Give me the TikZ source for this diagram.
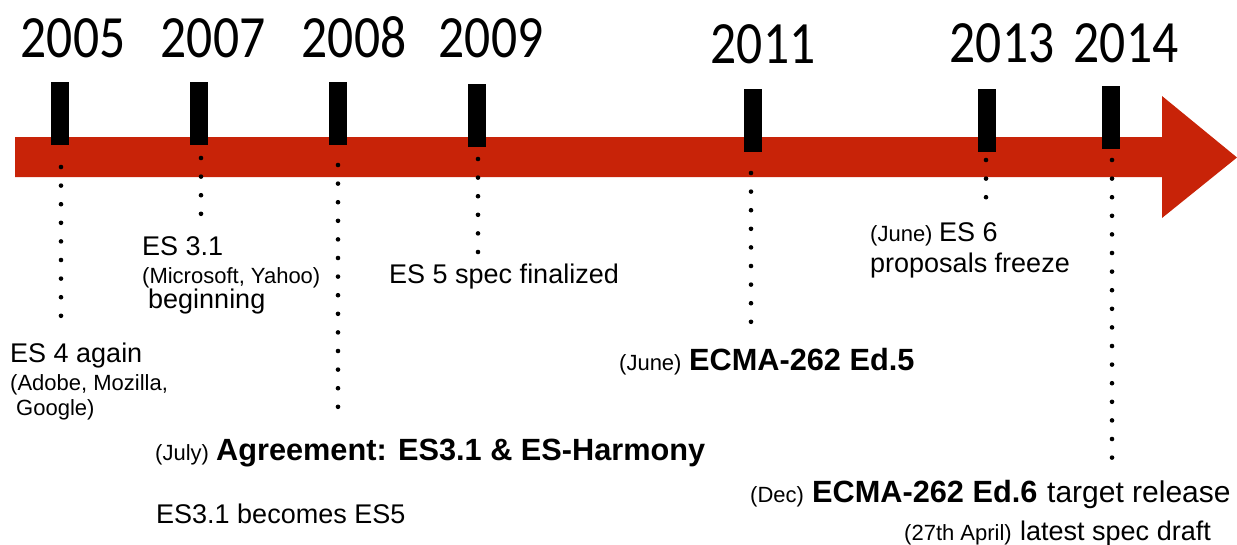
\documentclass[tikz,border=0pt]{standalone}
\usepackage{fontspec}
\setmainfont{Liberation Sans}
\newfontfamily\yearfont{Carlito}
\definecolor{tlred}{RGB}{200,35,8}
\tikzset{
  year/.style={font=\yearfont\fontsize{60}{60}\selectfont, inner sep=0pt, anchor=base},
  tickbar/.style={fill=black, draw=none, inner sep=0pt, minimum width=18pt, minimum height=63pt},
  dotline/.style={line width=4.6pt, line cap=round, dash pattern=on 0pt off 18.6pt},
  txt/.style={inner sep=0pt, anchor=base west, font=\fontsize{27}{30}\selectfont},
  smalltxt/.style={inner sep=0pt, anchor=base west, font=\fontsize{22}{24}\selectfont},
  boldtxt/.style={inner sep=0pt, anchor=base west, font=\bfseries\fontsize{30.7}{33}\selectfont},
}
\begin{document}
\begin{tikzpicture}[x=1pt,y=-1pt]
\useasboundingbox (0,0) rectangle (1237,544);
% timeline arrow
\fill[tlred] (15,137) -- (1162,137) -- (1162,96) -- (1237,157.5) -- (1162,218) -- (1162,177) -- (15,177) -- cycle;
% years
\node[year] (y05) at (73,57) {\scalebox{.86}[1]{2005}};
\node[year] (y07) at (213,57) {\scalebox{.86}[1]{2007}};
\node[year] (y08) at (354,57) {\scalebox{.86}[1]{2008}};
\node[year] (y09) at (491,57) {\scalebox{.86}[1]{2009}};
\node[year] (y11) at (763,63) {\scalebox{.86}[1]{2011}};
\node[year] (y13) at (1002,62) {\scalebox{.86}[1]{2013}};
\node[year] (y14) at (1126,62) {\scalebox{.86}[1]{2014}};
% ticks
\node[tickbar] (t05) at (60,113.5) {};
\node[tickbar] (t07) at (199,113.5) {};
\node[tickbar] (t08) at (338,113.5) {};
\node[tickbar] (t09) at (477,115) {};
\node[tickbar] (t11) at (753,120.5) {};
\node[tickbar] (t13) at (987,120.5) {};
\node[tickbar] (t14) at (1111,117.5) {};
% dotted leaders
\coordinate (d05a) at (61,167);   \coordinate (d05b) at (61,316.1);
\coordinate (d07a) at (201,158);  \coordinate (d07b) at (201,214.1);
\coordinate (d08a) at (338,165);  \coordinate (d08b) at (338,407.1);
\coordinate (d09a) at (478,159);  \coordinate (d09b) at (478,252.3);
\coordinate (d11a) at (751,173);  \coordinate (d11b) at (751,322.1);
\coordinate (d13a) at (986,160);  \coordinate (d13b) at (986,197.5);
\coordinate (d14a) at (1112,160); \coordinate (d14b) at (1112,457.9);
\draw[dotline] (d05a) -- (d05b);
\draw[dotline] (d07a) -- (d07b);
\draw[dotline] (d08a) -- (d08b);
\draw[dotline] (d09a) -- (d09b);
\draw[dotline] (d11a) -- (d11b);
\draw[dotline] (d13a) -- (d13b);
\draw[dotline] (d14a) -- (d14b);
% texts
\node[txt] (es31) at (142,255) {ES 3.1};
\node[smalltxt] (ms) at (142,283) {(Microsoft, Yahoo)};
\node[txt] (beg) at (148,308) {beginning};
\node[txt] (es4) at (10,362) {ES 4 again};
\node[smalltxt] (adobe) at (10,390) {(Adobe, Mozilla,};
\node[smalltxt] (google) at (16,415) {Google)};
\node[txt] (es5) at (389,283) {ES 5 spec finalized};
\node[smalltxt] (july) at (155,460) {(July)};
\node[boldtxt] (agree) at (216,460) {Agreement: ES3.1 \& ES-Harmony};
\node[txt] (becomes) at (156,523) {ES3.1 becomes ES5};
\node[smalltxt] (june1) at (619,370) {(June)};
\node[boldtxt] (ed5) at (689,370) {ECMA-262 Ed.5};
\node[smalltxt] (june2) at (870,241) {(June)};
\node[txt] (es6) at (939,241) {ES 6};
\node[txt] (freeze) at (870,272) {proposals freeze};
\node[smalltxt] (dec) at (750,502) {(Dec)};
\node[boldtxt] (ed6) at (812,502) {ECMA-262 Ed.6};
\node[txt, font=\fontsize{30}{32}\selectfont] (target) at (1047,502) {target release};
\node[smalltxt] (april) at (904,540) {(27th April)};
\node[txt] (draft) at (1020,540) {latest spec draft};
\end{tikzpicture}
\end{document}
